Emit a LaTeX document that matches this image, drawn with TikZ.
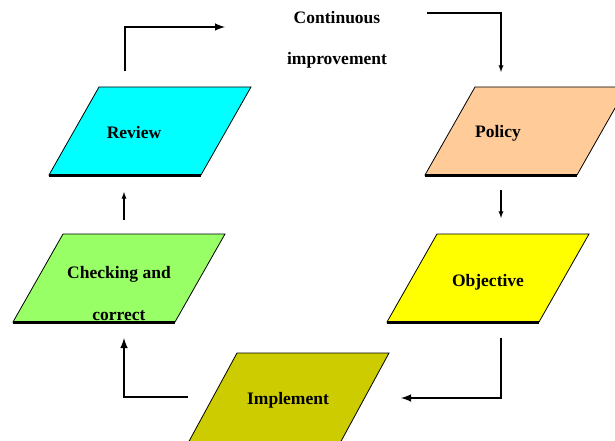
\documentclass[tikz,border=0pt]{standalone}
\usepackage{fontspec}
\setmainfont{Liberation Serif}
\usetikzlibrary{calc}

\definecolor{reviewcol}{RGB}{0, 255, 255}
\definecolor{policycol}{RGB}{255, 204, 153}
\definecolor{objectivecol}{RGB}{255, 255, 0}
\definecolor{checkingcol}{RGB}{153, 255, 102}
\definecolor{implementcol}{RGB}{204, 204, 0}

\tikzset{
  body/.style = {minimum width = 152, minimum height = 88, inner sep = 0,
    outer sep = 0},
  lbl/.style = {font = \fontsize{17.5}{20}\selectfont\bfseries},
  elbow/.style = {-latex, line width = 2.4},
  link/.style = {-latex, line width = 1.3},
}

\begin{document}
\begin{tikzpicture}[x = 1pt, y = -1pt]
  \useasboundingbox (0, 0) rectangle (615, 441);
  \clip (0, 0) rectangle (615, 441);

  \node[body] (review) at (150, 131) {};
  \node[body] (policy) at (526, 131) {};
  \node[body] (objective) at (488, 278) {};
  \node[body, minimum width = 162] (checking) at (119, 278) {};
  \node[body, minimum height = 92] (implement) at (288, 399) {};

  % slanted boxes with a heavy lower edge
  \foreach \n in {review, policy, objective, checking, implement} {
    \filldraw[fill = \n col, line width = .8] ([xshift = 25]\n.north west)
    -- ([xshift = 25]\n.north east) -- ([xshift = -25]\n.south east)
    -- ([xshift = -25]\n.south west) -- cycle;
    \draw[line width = 3] ([xshift = -25]\n.south west) --
    ([xshift = -25]\n.south east);
  }

  \node[lbl] (reviewtxt) at (134, 133) {Review};
  \node[lbl] (policytxt) at (498, 133) {Policy};
  \node[lbl] (objectivetxt) at (488, 282) {Objective};
  \node[lbl, align = center] (checkingtxt) at (119, 294) {Checking and\\[22pt]correct};
  \node[lbl] (implementtxt) at (288, 400) {Implement};
  \node[lbl, align = center] (cont) at (337, 40) {Continuous\\[21pt]improvement};

  \path (225, 27) coordinate (cin) (427, 13) coordinate (cout);

  \draw[elbow] ($(review.north west) + (51, -16)$) |- (cin);
  \draw[link] (cout) -| ($(policy.north west) + (51, -15)$);
  \draw[link] ($(policy.south west) + (51, 15)$) --
  ($(objective.north west) + (89, -16)$);
  \draw[elbow] ($(objective.south west) + (89, 16)$) |-
  ($(implement.north east) + (37, 45)$);
  \draw[elbow] ($(implement.north west) + (-24, 44)$) -|
  ($(checking.south west) + (86, 16)$);
  \draw[link] ($(checking.north west) + (86, -14)$) --
  ($(review.south west) + (50, 17)$);
\end{tikzpicture}
\end{document}
